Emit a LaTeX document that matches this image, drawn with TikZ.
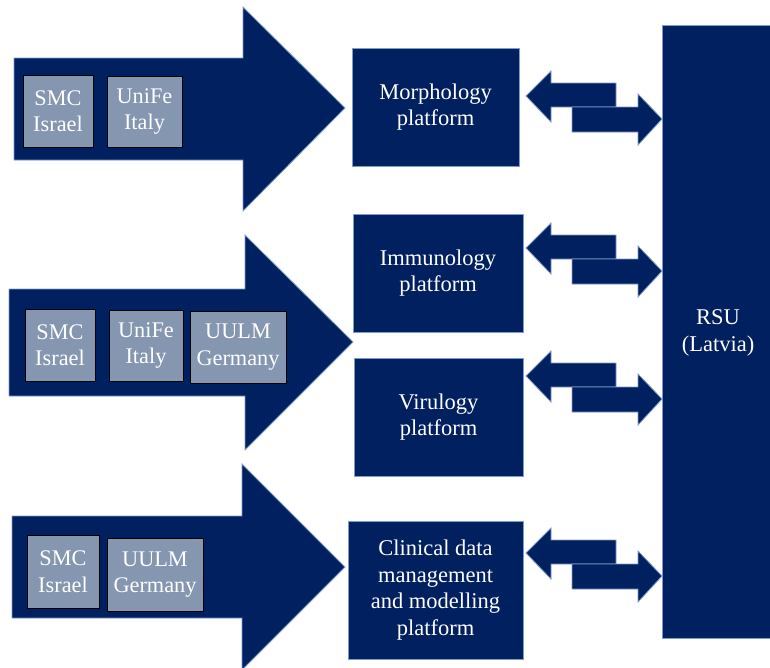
\documentclass[tikz,border=0pt]{standalone}
\usepackage{fontspec}
\setmainfont{Liberation Serif}
\definecolor{navy}{HTML}{002060}
\definecolor{rim}{HTML}{7F9CC8}
\definecolor{slate}{HTML}{8496B0}
\begin{document}
\begin{tikzpicture}[x=1pt,y=-1pt,
  blockshape/.style={fill=navy,draw=rim,line width=0.8pt,line join=miter},
  partner/.style={fill=slate,draw=black,line width=1pt,text=white,align=center,
    font=\rmfamily\fontsize{22.3}{26.5}\selectfont,inner sep=0pt},
  platform/.style={fill=navy,draw=rim,line width=0.8pt,text=white,align=center,
    font=\rmfamily\fontsize{22.5}{26.5}\selectfont,inner sep=0pt}]
\useasboundingbox (0,0) rectangle (770,667);

% large inbound arrows
\draw[blockshape] (14,58) -- (243,58) -- (243,7) -- (345,108) -- (243,211) -- (243,160) -- (14,160) -- cycle;
\draw[blockshape] (9,289) -- (245,289) -- (245,235) -- (353,342) -- (245,450) -- (245,396) -- (9,396) -- cycle;
\draw[blockshape] (12,516) -- (242,516) -- (242,464) -- (345,567) -- (242,670) -- (242,618) -- (12,618) -- cycle;

% partner institutions
\node[partner,minimum width=70,minimum height=72] (s1) at (58,111) {SMC\\Israel};
\node[partner,minimum width=75,minimum height=71] (u1) at (144.5,111.5) {UniFe\\Italy};

\node[partner,minimum width=70,minimum height=72] (s2) at (60,345) {SMC\\Israel};
\node[partner,minimum width=74,minimum height=71] (u2) at (146,345.5) {UniFe\\Italy};
\node[partner,minimum width=96,minimum height=72] (g2) at (238,347) {UULM\\Germany};

\node[partner,minimum width=72,minimum height=73] (s3) at (63,571.5) {SMC\\Israel};
\node[partner,minimum width=96,minimum height=73] (g3) at (155,574.5) {UULM\\Germany};

% platforms
\node[platform,minimum width=167,minimum height=118] (morph) at (435.5,107) {Morphology\\platform};
\node[platform,minimum width=170,minimum height=118] (immu) at (438,273) {Immunology\\platform};
\node[platform,minimum width=169,minimum height=118] (viro) at (438.5,417) {Virulogy\\platform};
\node[platform,minimum width=175,minimum height=138] (clin) at (435.5,590) {Clinical data\\management\\and modelling\\platform};

% central partner
\draw[blockshape] (662,25) rectangle (775,638);
\node[text=white,align=center,font=\rmfamily\fontsize{22.5}{26.5}\selectfont] (rsu) at (718,333) {RSU\\(Latvia)};

% two-way exchange arrows between each platform and RSU
\foreach \y in {96,248,376,553}{
  \draw[blockshape] (526,\y) -- (551,\y-25) -- (551,\y-13) -- (616,\y-13) -- (616,\y+11) -- (551,\y+11) -- (551,\y+26) -- cycle;
  \draw[blockshape] (662,\y+23) -- (638,\y-2) -- (638,\y+11) -- (572,\y+11) -- (572,\y+36) -- (638,\y+36) -- (638,\y+49) -- cycle;
}
\end{tikzpicture}
\end{document}
